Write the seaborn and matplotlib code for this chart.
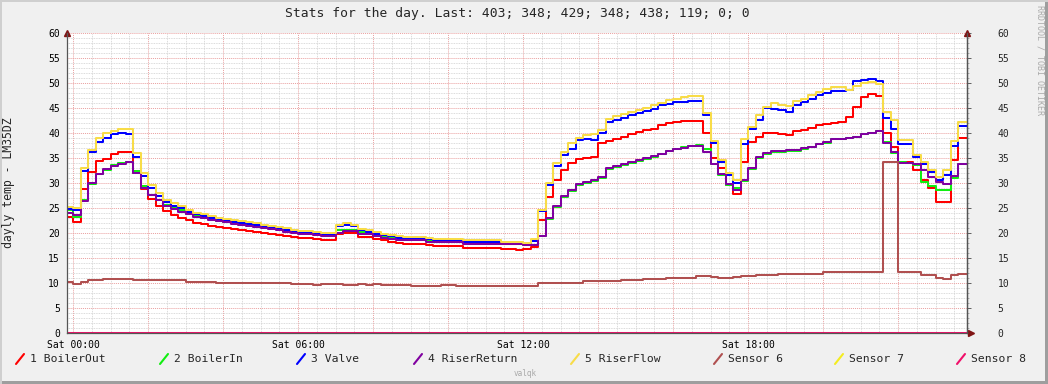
import numpy as np
import pandas as pd
import matplotlib
matplotlib.use("Agg")
import matplotlib.pyplot as plt
from matplotlib.lines import Line2D
from matplotlib.patches import Rectangle
import seaborn as sns

W, H = 1048, 384

# 12 minute samples, first one starts at Fri 23:48 (hours relative to Sat 00:00)
first_hour = -0.2
step_hour = 0.2

boiler_out = [
    23.2, 22.2, 28.8, 32.3, 34.5, 34.9, 35.9, 36.3, 36.3, 32.0,
    28.8, 26.8, 25.4, 24.4, 23.6, 23.1, 22.6, 22.1, 21.8, 21.5,
    21.2, 21.0, 20.8, 20.6, 20.4, 20.2, 20.0, 19.8, 19.6, 19.4,
    19.3, 19.1, 19.1, 18.9, 18.6, 18.6, 19.9, 20.1, 20.1, 19.3,
    19.3, 18.9, 18.6, 18.3, 18.1, 17.8, 17.8, 17.8, 17.6, 17.5,
    17.5, 17.5, 17.5, 17.1, 17.1, 17.1, 17.1, 17.1, 16.9, 16.9,
    16.7, 16.9, 17.3, 22.6, 27.3, 30.6, 32.7, 34.1, 34.8, 35.1,
    35.3, 38.1, 38.5, 38.9, 39.3, 39.8, 40.3, 40.6, 40.9, 41.6,
    42.1, 42.3, 42.5, 42.5, 42.5, 40.1, 35.1, 33.1, 29.6, 27.9,
    34.3, 38.3, 39.3, 40.1, 40.1, 39.8, 39.6, 40.4, 40.6, 41.0,
    41.6, 41.8, 42.1, 42.3, 43.3, 45.3, 47.2, 47.8, 47.4, 40.1,
    37.3, 34.3, 34.3, 32.6, 30.6, 29.1, 26.2, 26.2, 34.7, 39.1,
    39.1,
]
boiler_in = [
    24.6, 23.2, 26.6, 29.8, 31.8, 32.7, 33.6, 34.0, 34.2, 32.5,
    29.4, 27.7, 26.7, 25.7, 25.1, 24.6, 23.9, 23.4, 23.1, 22.8,
    22.5, 22.3, 22.0, 21.8, 21.6, 21.4, 21.2, 21.0, 20.8, 20.5,
    20.2, 20.1, 20.1, 19.8, 19.7, 19.7, 20.6, 20.7, 20.6, 20.3,
    20.1, 19.7, 19.4, 19.1, 18.9, 18.7, 18.7, 18.7, 18.6, 18.5,
    18.5, 18.5, 18.5, 18.2, 18.2, 18.2, 18.2, 18.2, 17.8, 17.8,
    17.8, 17.7, 17.7, 19.4, 22.9, 25.2, 27.3, 28.5, 29.7, 30.1,
    30.5, 31.1, 32.9, 33.2, 33.6, 34.1, 34.5, 34.9, 35.3, 35.8,
    36.4, 36.9, 37.2, 37.5, 37.6, 36.9, 33.9, 31.6, 29.7, 29.0,
    30.4, 32.9, 35.0, 35.9, 36.2, 36.3, 36.4, 36.5, 36.9, 37.2,
    37.8, 38.1, 38.8, 38.8, 39.0, 39.3, 39.8, 40.0, 40.4, 38.3,
    36.0, 34.3, 34.1, 33.6, 30.3, 29.4, 28.6, 28.6, 31.0, 33.8,
    33.8,
]
valve = [
    24.8, 24.7, 32.5, 36.2, 38.3, 39.0, 39.8, 40.1, 39.9, 35.2,
    31.5, 29.1, 27.5, 26.3, 25.5, 25.1, 24.3, 23.8, 23.5, 23.1,
    22.8, 22.6, 22.3, 22.1, 21.8, 21.6, 21.4, 21.2, 21.0, 20.7,
    20.4, 20.2, 20.2, 20.0, 19.8, 19.8, 21.4, 21.7, 21.5, 20.6,
    20.3, 19.9, 19.7, 19.4, 19.1, 18.9, 18.9, 18.9, 18.8, 18.7,
    18.7, 18.7, 18.7, 18.3, 18.3, 18.3, 18.3, 18.3, 17.9, 17.9,
    17.9, 17.9, 18.4, 24.4, 29.6, 33.4, 35.6, 36.9, 38.6, 38.9,
    38.6, 40.1, 42.3, 42.7, 43.1, 43.6, 44.1, 44.5, 44.9, 45.6,
    45.9, 46.3, 46.3, 46.5, 46.5, 43.7, 38.1, 34.3, 31.7, 30.1,
    37.9, 40.9, 42.6, 45.1, 44.8, 44.6, 44.3, 45.6, 46.3, 46.9,
    47.6, 48.1, 48.5, 48.5, 48.6, 50.5, 50.7, 50.9, 50.4, 43.1,
    40.9, 37.9, 37.9, 35.3, 33.9, 32.3, 30.6, 31.6, 37.5, 41.5,
    41.5,
]
riser_return = [
    24.1, 23.7, 26.5, 30.0, 31.9, 32.8, 33.5, 33.9, 34.2, 32.1,
    29.1, 27.6, 26.6, 25.4, 24.9, 24.3, 23.8, 23.3, 23.0, 22.7,
    22.4, 22.2, 21.9, 21.7, 21.4, 21.2, 21.0, 20.8, 20.6, 20.3,
    20.0, 19.9, 19.9, 19.7, 19.4, 19.4, 20.1, 20.4, 20.4, 19.9,
    19.8, 19.5, 19.1, 18.9, 18.7, 18.6, 18.6, 18.6, 18.3, 18.3,
    18.3, 18.3, 18.3, 17.9, 17.9, 17.9, 17.9, 17.9, 17.8, 17.8,
    17.8, 17.7, 17.7, 19.5, 23.1, 25.4, 27.4, 28.6, 29.8, 30.2,
    30.6, 31.3, 33.1, 33.4, 33.8, 34.3, 34.6, 35.1, 35.4, 35.9,
    36.5, 36.9, 37.1, 37.4, 37.5, 36.3, 33.8, 31.8, 29.8, 28.6,
    30.6, 33.1, 35.3, 36.1, 36.5, 36.5, 36.6, 36.6, 37.1, 37.3,
    37.9, 38.2, 38.9, 38.9, 39.1, 39.3, 39.9, 40.1, 40.5, 38.1,
    36.3, 34.1, 34.1, 33.8, 32.6, 31.3, 30.3, 29.9, 31.4, 33.8,
    33.8,
]
riser_flow = [
    25.3, 25.1, 33.1, 36.7, 39.0, 40.0, 40.5, 40.8, 40.8, 36.0,
    32.1, 29.6, 28.1, 26.7, 26.1, 25.4, 24.7, 24.1, 23.8, 23.4,
    23.1, 22.9, 22.6, 22.4, 22.2, 22.0, 21.7, 21.5, 21.3, 21.0,
    20.7, 20.5, 20.5, 20.3, 20.1, 20.1, 21.7, 22.1, 21.7, 20.9,
    20.6, 20.3, 19.9, 19.6, 19.4, 19.3, 19.3, 19.3, 19.1, 18.9,
    18.9, 18.9, 18.9, 18.6, 18.6, 18.6, 18.6, 18.6, 18.3, 18.3,
    18.3, 18.1, 18.9, 24.7, 30.1, 34.1, 36.3, 38.1, 39.1, 39.6,
    39.8, 40.6, 42.9, 43.4, 43.9, 44.3, 44.7, 45.1, 45.6, 46.1,
    46.6, 46.9, 47.3, 47.4, 47.4, 44.1, 38.5, 34.7, 32.1, 30.6,
    38.9, 41.3, 43.6, 45.3, 46.1, 45.6, 45.4, 46.5, 46.9, 47.6,
    48.3, 48.9, 49.3, 49.3, 48.6, 49.4, 50.1, 50.3, 49.9, 44.3,
    42.7, 38.6, 38.6, 35.6, 34.3, 32.6, 31.3, 32.6, 38.5, 42.3,
    42.3,
]
sensor_6 = [
    10.3, 9.8, 10.3, 10.7, 10.7, 10.9, 10.9, 10.9, 10.9, 10.7,
    10.7, 10.7, 10.7, 10.7, 10.7, 10.7, 10.3, 10.3, 10.3, 10.3,
    10.1, 10.1, 10.1, 10.1, 10.1, 10.1, 10.0, 10.0, 10.0, 10.0,
    9.8, 9.8, 9.8, 9.6, 9.8, 9.8, 9.8, 9.6, 9.6, 9.8,
    9.6, 9.9, 9.7, 9.7, 9.7, 9.7, 9.5, 9.5, 9.5, 9.5,
    9.7, 9.7, 9.5, 9.5, 9.5, 9.5, 9.5, 9.5, 9.5, 9.5,
    9.5, 9.4, 9.4, 10.1, 10.1, 10.1, 10.1, 10.1, 10.1, 10.4,
    10.4, 10.4, 10.4, 10.4, 10.7, 10.7, 10.7, 10.9, 10.9, 10.9,
    11.1, 11.1, 11.1, 11.1, 11.4, 11.4, 11.3, 11.1, 11.1, 11.3,
    11.4, 11.4, 11.6, 11.6, 11.6, 11.9, 11.9, 11.9, 11.9, 11.9,
    11.9, 12.3, 12.3, 12.3, 12.3, 12.3, 12.3, 12.3, 12.3, 34.3,
    34.3, 12.3, 12.3, 12.3, 11.6, 11.6, 11.1, 10.9, 11.6, 11.9,
    11.9,
]
# sensors 7 and 8 read 0 for the whole day
sensor_7 = [0.0] * len(sensor_6)
sensor_8 = [0.0] * len(sensor_6)

names = ["1 BoilerOut", "2 BoilerIn", "3 Valve", "4 RiserReturn",
         "5 RiserFlow", "Sensor 6", "Sensor 7", "Sensor 8"]
colors = ["#ff0000", "#11ee11", "#0000ff", "#8000a0",
          "#f8dc48", "#b05050", "#f4ec20", "#f0106a"]
series = [boiler_out, boiler_in, valve, riser_return,
          riser_flow, sensor_6, sensor_7, sensor_8]

title = "Stats for the day. Last: 403; 348; 429; 348; 438; 119; 0; 0"
ylabel = "dayly temp - LM35DZ"
time_ticks = [0, 6, 12, 18]
time_labels = ["Sat 00:00", "Sat 06:00", "Sat 12:00", "Sat 18:00"]

# long form table, last value repeated to close the final step
frames = []
for name, vals in zip(names, series):
    n = len(vals)
    hours = first_hour + step_hour * np.arange(n + 1)
    frames.append(pd.DataFrame({"hour": hours, "temp": list(vals) + [vals[-1]], "sensor": name}))
df = pd.concat(frames, ignore_index=True)

sns.set_theme(style="white")
plt.rcParams["font.family"] = ["DejaVu Sans Mono", "DejaVu Sans"]

fig = plt.figure(figsize=(W / 100, H / 100), dpi=100, facecolor="#f0f0f0")
ax = fig.add_axes([67 / W, 51 / H, 900 / W, 300 / H])
ax.set_facecolor("white")

sns.lineplot(data=df, x="hour", y="temp", hue="sensor", hue_order=names,
             palette=colors, drawstyle="steps-post", linewidth=1.45,
             estimator=None, sort=False, legend=False, ax=ax)

ax.set_xlim(-0.16, 23.84)
ax.set_ylim(0, 60)

# grid: 30 min / 1 degree minor, 2 h / 5 degree major
major_x = np.arange(0, 24, 2)
ax.set_xticks(major_x)
ax.set_xticklabels([time_labels[time_ticks.index(h)] if h in time_ticks else "" for h in major_x])
ax.set_xticks(np.arange(0, 24, 0.5), minor=True)
ax.set_yticks(np.arange(0, 61, 5))
ax.set_yticks(np.arange(0, 61, 1), minor=True)
ax.set_axisbelow(True)
ax.grid(which="minor", color="#cfcfcf", linestyle=(0, (1, 1)), linewidth=0.6)
ax.grid(which="major", color="#eaa0a0", linestyle=(0, (1, 1)), linewidth=0.7)

ax.set_xlabel("")
ax.set_ylabel("")
ax.tick_params(axis="x", which="major", direction="out", length=3, width=0.7,
               color="#e07070", pad=2, labelsize=7, labelcolor="#000000")
ax.tick_params(axis="x", which="minor", direction="out", length=1.5, width=0.5, color="#909090")
ax.tick_params(axis="y", which="major", direction="out", length=3, width=0.7,
               color="#606060", pad=2, labelsize=7, labelcolor="#000000")
ax.tick_params(axis="y", which="minor", direction="out", length=1.5, width=0.5, color="#909090")

ax.spines["top"].set_visible(False)
for side in ["left", "right", "bottom"]:
    ax.spines[side].set_color("#555555")
    ax.spines[side].set_linewidth(0.9)

# right value axis
ax2 = ax.secondary_yaxis("right")
ax2.set_yticks(np.arange(0, 61, 5))
ax2.set_yticks(np.arange(0, 61, 1), minor=True)
ax2.tick_params(axis="y", which="major", direction="out", length=3, width=0.7,
                color="#606060", pad=19, labelsize=7)
ax2.tick_params(axis="y", which="minor", direction="out", length=1.5, width=0.5, color="#909090")
ax2.spines["right"].set_color("#555555")
ax2.spines["right"].set_linewidth(0.9)

# axis arrows
arrow = "#801515"
ax.plot([0], [1.0], marker="^", markersize=4.5, color=arrow, transform=ax.transAxes, clip_on=False)
ax.plot([1], [1.0], marker="^", markersize=4.5, color=arrow, transform=ax.transAxes, clip_on=False)
ax.plot([1.004], [0], marker=">", markersize=4.5, color=arrow, transform=ax.transAxes, clip_on=False)

# texts
fig.text(517 / W, 1 - 13 / H, title, ha="center", va="center", fontsize=9.4)
fig.text(9 / W, 1 - 183 / H, ylabel, rotation=90, ha="center", va="center", fontsize=8.3)
fig.text(1040 / W, 1 - 5 / H, "RRDTOOL / TOBI OETIKER", rotation=270, ha="center",
         va="top", fontsize=6, color="#aaaaaa")
fig.text(525 / W, 1 - 373 / H, "valqk", ha="center", va="center", fontsize=5.5, color="#a8a8a8")

# legend row
marker_x = [20, 164, 301, 418, 575, 718, 839, 961]
leg_y = 359
for x, name, col in zip(marker_x, names, colors):
    fig.add_artist(Line2D([(x - 4) / W, (x + 4) / W], [1 - (leg_y + 5) / H, 1 - (leg_y - 5) / H],
                          color=col, linewidth=1.5, transform=fig.transFigure))
    fig.text((x + 10) / W, 1 - leg_y / H, name, ha="left", va="center", fontsize=8.2)

# shaded frame like rrdtool
fig.add_artist(Rectangle((0, 0), 1, 3 / H, transform=fig.transFigure, color="#9e9e9e", lw=0))
fig.add_artist(Rectangle((1 - 3 / W, 0), 3 / W, 1, transform=fig.transFigure, color="#9e9e9e", lw=0))
fig.add_artist(Rectangle((0, 1 - 2 / H), 1, 2 / H, transform=fig.transFigure, color="#cfcfcf", lw=0))
fig.add_artist(Rectangle((0, 0), 2 / W, 1, transform=fig.transFigure, color="#cfcfcf", lw=0))

fig.savefig("out.png", dpi=100, facecolor=fig.get_facecolor())
